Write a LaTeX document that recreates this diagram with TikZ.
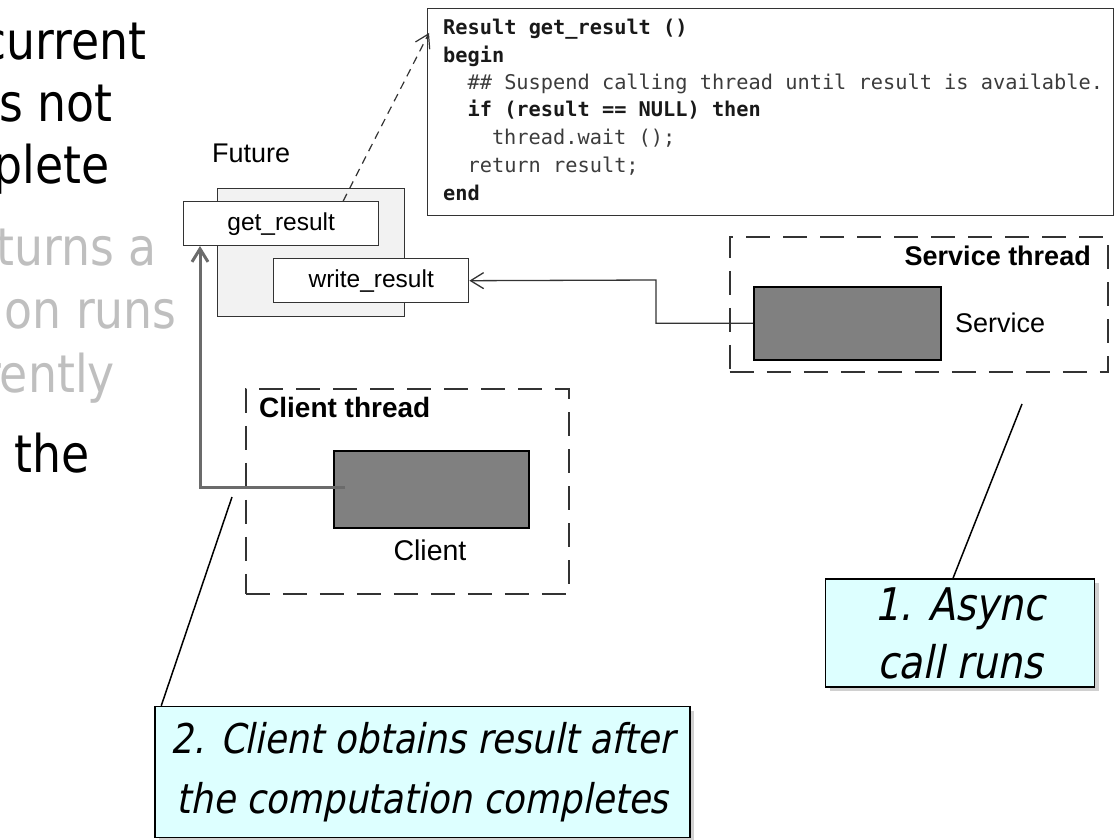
\documentclass[tikz,border=0pt]{standalone}
\usepackage{fontspec}
\usetikzlibrary{arrows.meta,shadows}
\setmainfont{DejaVu Sans}
\newfontfamily\slidefont[FakeStretch=0.88]{DejaVu Sans}
\newfontfamily\notefont[FakeStretch=0.87,FakeSlant=0.2]{DejaVu Sans}
\newfontfamily\labelfont{Liberation Sans}
\newfontfamily\codefont{DejaVu Sans Mono}
\definecolor{futurefill}{HTML}{F2F2F2}
\definecolor{taskfill}{HTML}{808080}
\definecolor{notefill}{HTML}{DDFFFF}
\definecolor{fadedtext}{HTML}{BFBFBF}
\definecolor{wire}{HTML}{6B6B6B}
\definecolor{codegray}{HTML}{3C3C3C}
\definecolor{frame}{HTML}{333333}
\tikzset{
  slidetext/.style={font=\slidefont\fontsize{52}{62}\selectfont, inner sep=0pt, anchor=base east},
  plainbox/.style={draw=frame, line width=1.4pt, inner sep=0pt, anchor=north west},
  methodbox/.style={plainbox, fill=white, font=\labelfont\fontsize{24.5}{28}\selectfont},
  taskbox/.style={plainbox, draw=black, line width=1.6pt, fill=taskfill},
  threadbox/.style={draw=frame, line width=1.8pt, dash pattern=on 24pt off 13pt, inner sep=0pt, anchor=north west},
  codeline/.style={font=\codefont\fontsize{20.3}{24}\selectfont, text=codegray, inner sep=0pt, anchor=base west},
  codebold/.style={codeline, font=\codefont\bfseries\fontsize{20.3}{24}\selectfont, text=black!90},
  diaglabel/.style={font=\labelfont\fontsize{27}{30}\selectfont, inner sep=0pt},
  openhead/.style={-{Straight Barb[length=13pt,width=16pt]}},
  note/.style={draw=black, line width=1.5pt, fill=notefill, align=center, inner sep=0pt,
    drop shadow={shadow xshift=4pt, shadow yshift=-4pt, opacity=0.3, fill=black!60}},
  pointer/.style={draw=black, line width=1.5pt},
}
\begin{document}
\begin{tikzpicture}[x=1pt,y=-1pt]
\useasboundingbox (0,0) rectangle (1116,840);
\fill[white] (0,0) rectangle (1116,840);
\clip (0,0) rectangle (1116,840);

% bullet text running in from the left edge
\node[slidetext] (t1) at (147,60) {current};
\node[slidetext] (t2) at (113,122) {s not};
\node[slidetext] (t3) at (110,183) {plete};
\node[slidetext, text=fadedtext] (t4) at (157,265) {turns a};
\node[slidetext, text=fadedtext] (t5) at (177,328) {on runs};
\node[slidetext, text=fadedtext] (t6) at (115,392) {rently};
\node[slidetext] (t7) at (90,472) {the};

% the future object with its two methods
\node[diaglabel, anchor=base west] (futurelbl) at (212,162) {Future};
\node[plainbox, fill=futurefill, minimum width=187, minimum height=128] (future) at (217,188) {};
\node[methodbox, minimum width=195, minimum height=44] (getres) at (183,201) {get\_result};
\node[methodbox, minimum width=195, minimum height=44] (writeres) at (273,258) {write\_result};

% listing of get_result
\node[plainbox, fill=white, minimum width=686, minimum height=207] (codebox) at (427,8) {};
\node[codebold] (c1) at (443,35) {Result get\_result ()};
\node[codebold] (c2) at (443,63) {begin};
\node[codeline] (c3) at (467.4,90) {\#\# Suspend calling thread until result is available.};
\node[codebold] (c4) at (467.4,117) {if (result == NULL) then};
\node[codeline] (c5) at (491.8,145) {thread.wait ();};
\node[codeline] (c6) at (467.4,172) {return result;};
\node[codebold] (c7) at (443,200) {end};

% service thread
\node[threadbox, minimum width=378, minimum height=135] (svcthread) at (729,236) {};
\node[diaglabel, font=\labelfont\bfseries\fontsize{27}{30}\selectfont, anchor=base east] (svcthreadlbl) at (1091,265) {Service thread};
\node[taskbox, minimum width=187, minimum height=73] (service) at (753,286) {};
\node[diaglabel, anchor=west] (servicelbl) at (955,323) {Service};

% client thread
\node[threadbox, minimum width=323, minimum height=205] (clithread) at (245,388) {};
\node[diaglabel, font=\labelfont\bfseries\fontsize{28}{30}\selectfont, anchor=base west] (clithreadlbl) at (259,417) {Client thread};
\node[taskbox, minimum width=195, minimum height=77] (client) at (333,450) {};
\node[diaglabel, font=\labelfont\fontsize{28.5}{30}\selectfont] (clientlbl) at (430,550) {Client};

% connectors
\coordinate (codein) at (429,33);
\draw[openhead, draw=frame, line width=1.2pt, dash pattern=on 8pt off 6pt] ([xshift=62pt]getres.north) -- (codein);
\coordinate (svcbend) at (656,280);
\draw[openhead, draw=frame, line width=1.3pt] (service.west) -| (svcbend) -- (writeres.east);
\coordinate (clistart) at (345,487);
\coordinate (getin) at (200,246);
\draw[openhead, draw=wire, line width=3pt] (clistart) -| (getin);

% callouts
\node[note, font=\notefont\fontsize{41}{60}\selectfont, minimum width=535, minimum height=131] (note2) at (422.5,772) {2. Client obtains result after\\the computation completes};
\node[note, font=\notefont\fontsize{45}{58}\selectfont, minimum width=269, minimum height=108] (note1) at (960,633) {1. Async\\call runs};
\coordinate (clientpt) at (232,497);
\coordinate (servicept) at (1022,404);
\draw[pointer] (clientpt) -- ([xshift=7pt]note2.north west);
\draw[pointer] (servicept) -- ([xshift=-7pt]note1.north);
\end{tikzpicture}
\end{document}
